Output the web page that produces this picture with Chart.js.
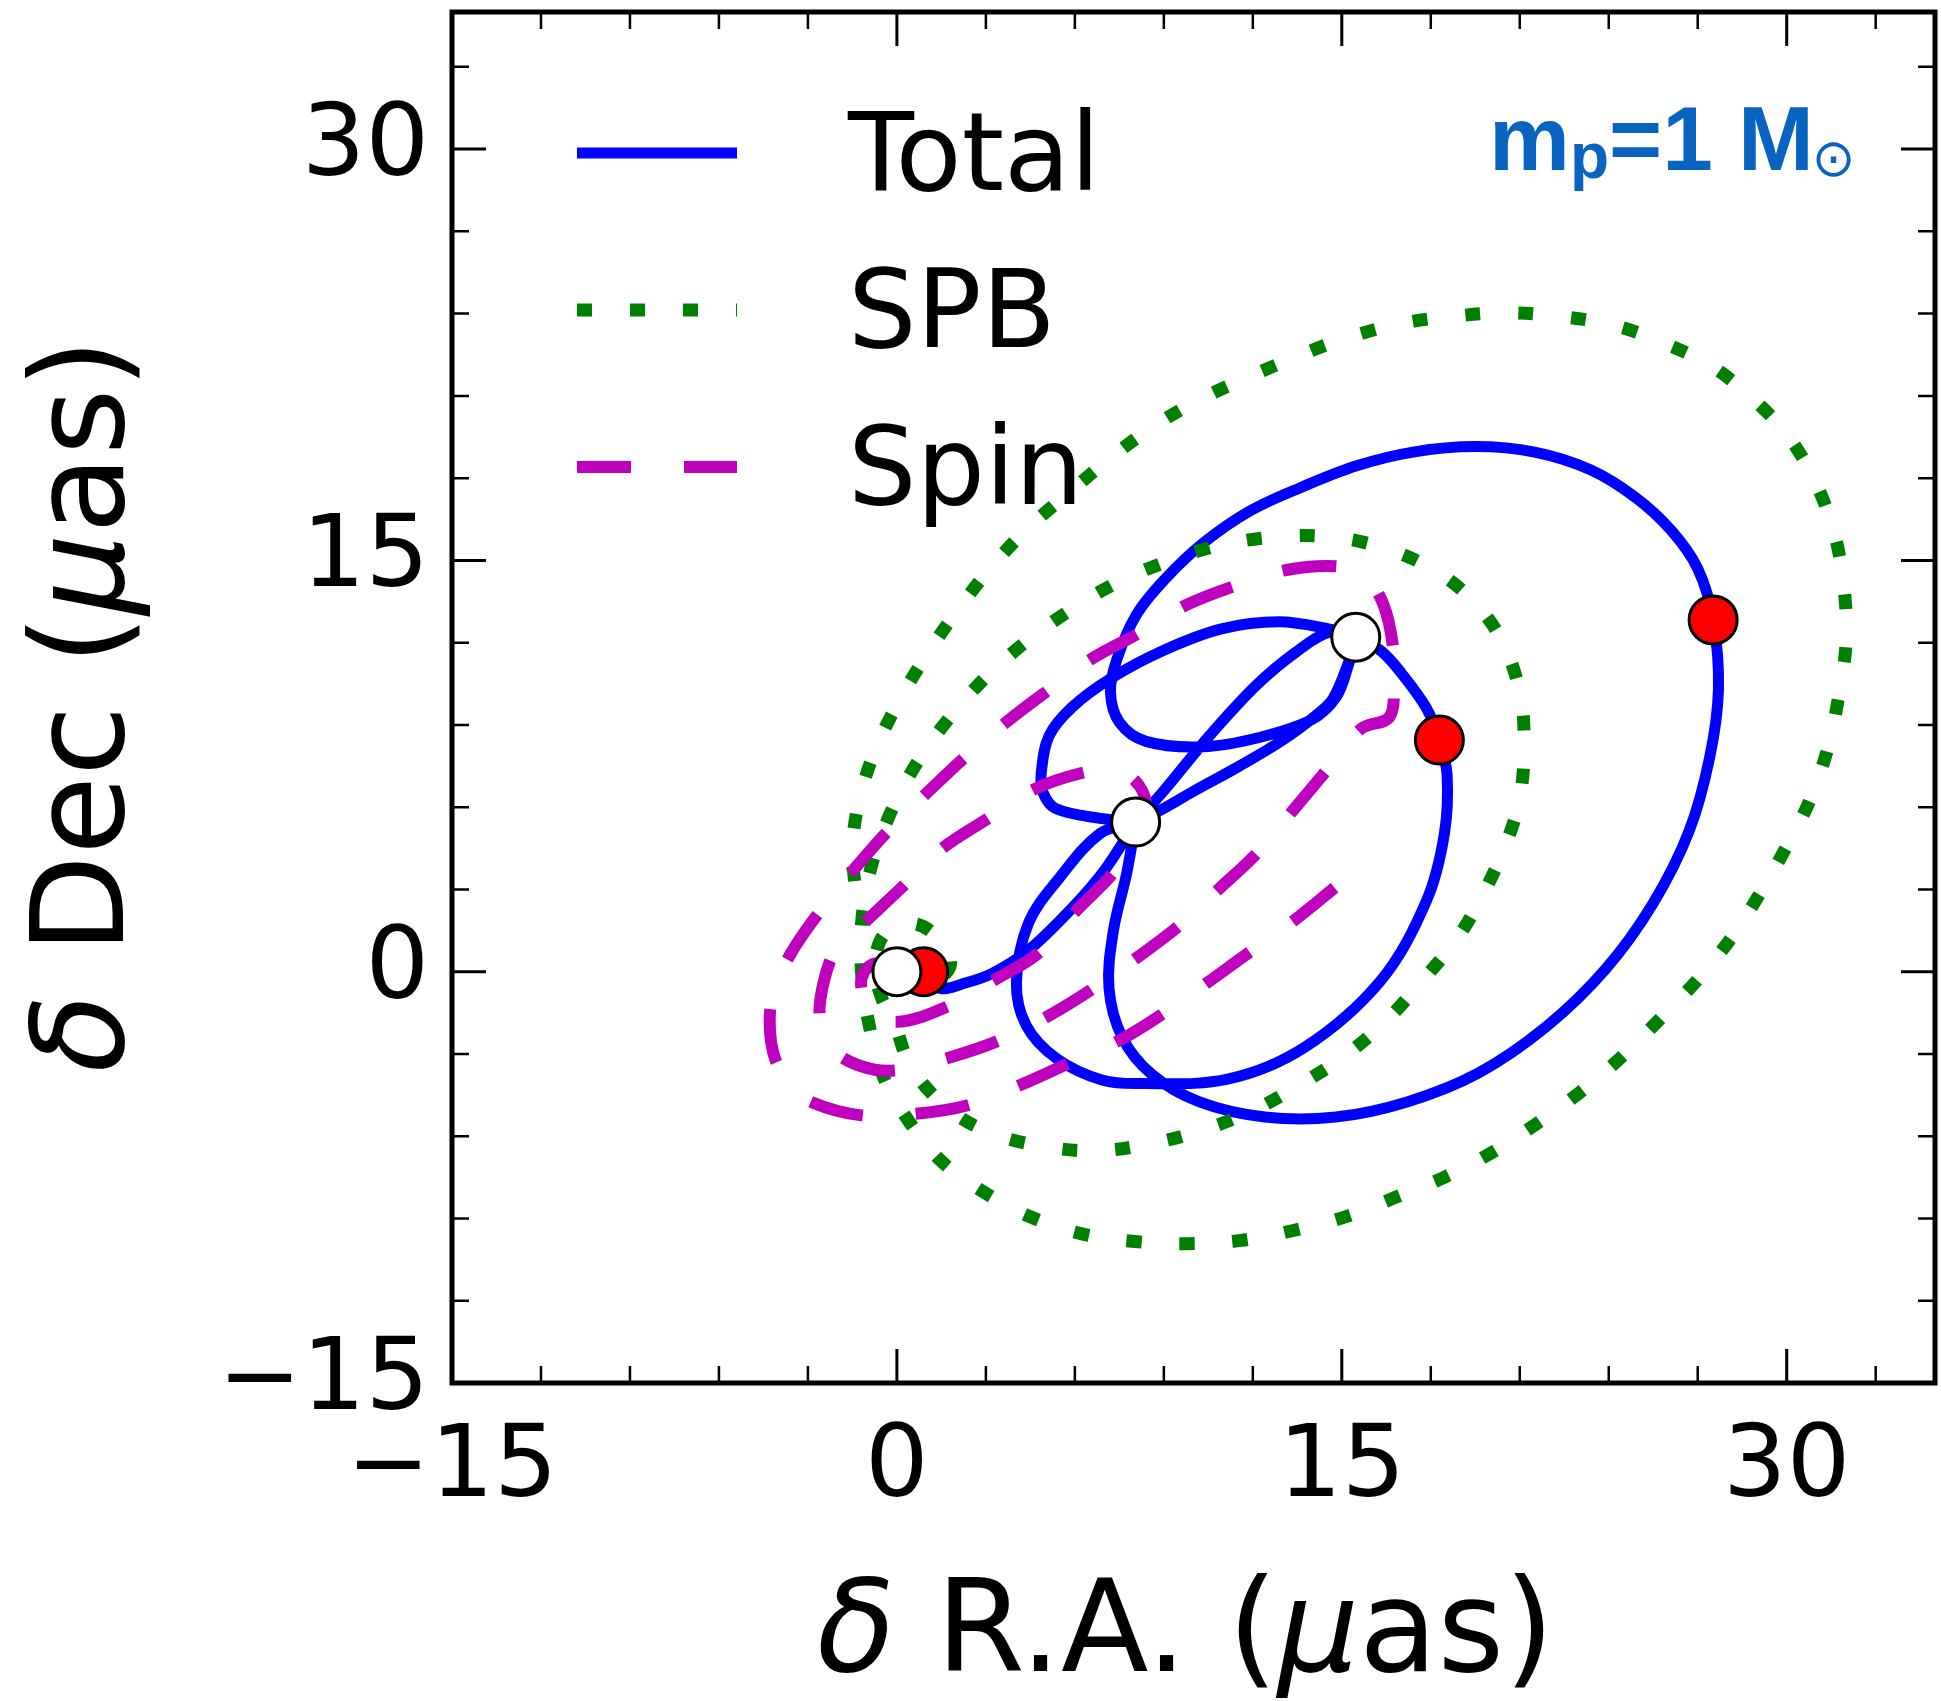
<!DOCTYPE html>
<html>
<head>
<meta charset="utf-8">
<script src="https://cdn.jsdelivr.net/npm/chart.js@4.4.1/dist/chart.umd.min.js"></script>
<style>
html, body { margin: 0; padding: 0; background: #fff; }
#wrap { width: 1941px; height: 1701px; }
</style>
</head>
<body>
<div id="wrap"><canvas id="orbit" width="1941" height="1701"></canvas></div>
<script>
// axis ticks (micro-arcsec)
const xTicks = [-15, 0, 15, 30];
const yTicks = [-15, 0, 15, 30];

// Total track, [dRA, dDec], split into the pieces between the marker points
const totalStart = [[0,0],[0.9,-0.3],[1.5,-0.62],[2.2,-0.45],[3.2,-0.07],[4.4,0.75],[5.8,2.2],[7.0,3.7],[8.05,5.46]];
const totalSmallLoop = [[8.05,5.46],[6.95,5.58],[5.37,5.94],[4.92,6.55],[4.87,7.29],[5.13,8.6],[5.9,9.64],[7.19,10.68],[9.0,11.72],[10.94,12.5],[12.87,12.76],[14.55,12.5],[15.47,12.2]];
const totalMidLoop = [[15.47,12.2],[16.31,11.71],[17.0,10.9],[17.86,9.6],[18.29,8.45],[18.55,7.18],[18.46,5.04],[17.86,2.6],[16.31,-0.33],[13.73,-2.77],[11.15,-3.92],[8.23,-4.08],[6.94,-3.96],[5.39,-3.17],[4.36,-1.96],[4.03,-0.38],[4.44,1.78],[5.47,3.41],[6.85,5.04],[8.05,5.46]];
const totalLensUpper = [[8.05,5.46],[9.0,6.6],[10.54,8.61],[12.11,10.44],[13.46,11.66],[14.59,12.38],[15.47,12.2]];
const totalLensLower = [[15.47,12.2],[15.2,11.2],[14.7,9.95],[14.2,9.41],[13.0,8.44],[11.5,7.47],[10.0,6.58],[8.97,5.94],[8.05,5.46]];
const totalBigLoop = [[8.05,5.46],[7.75,3.6],[7.3,1.5],[7.15,-0.6],[7.6,-2.4],[8.6,-3.75],[10.2,-4.75],[12.4,-5.3],[14.8,-5.3],[17.2,-4.75],[19.6,-3.7],[21.9,-2.0],[23.9,0.1],[25.5,2.5],[26.7,5.1],[27.4,7.8],[27.7,10.3],[27.52,12.83],[27.0,14.7],[26.1,16.1],[24.9,17.3],[23.4,18.3],[21.5,18.95],[19.5,19.15],[17.4,18.95],[15.5,18.45],[13.6,17.65],[11.9,16.8],[10.35,15.65],[9.05,14.33],[8.07,13.01],[7.42,11.4],[7.2,10.2],[7.5,9.1],[8.4,8.4],[10.3,8.2],[12.25,8.55],[14.0,9.2],[14.8,10.0],[15.2,11.1],[15.47,12.2]];

// SPB contribution
const spbTrack = [[0,0],[1.0,-0.45],[1.79,0.18],[1.5,1.1],[0.6,1.75],[-0.4,1.4],[-0.75,0.2],[-0.5,-1.0],[-0.13,-1.71],[0.47,-3.46],[1.72,-4.99],[3.24,-5.91],[4.99,-6.38],[6.78,-6.53],[8.56,-6.27],[10.3,-5.78],[12.01,-5.06],[13.56,-4.14],[15.12,-3.05],[16.51,-1.77],[17.73,-0.31],[18.88,1.2],[19.77,2.84],[20.51,4.6],[21.0,6.3],[21.15,8.47],[20.97,10.35],[20.31,12.25],[19.23,13.74],[17.78,14.85],[16.1,15.56],[14.29,15.89],[12.49,15.83],[10.68,15.5],[9.0,14.92],[7.26,14.1],[5.71,13.09],[4.29,11.98],[2.94,10.68],[1.71,9.18],[0.68,7.62],[-0.16,5.93],[-0.81,4.04],[-1.15,2.22],[-1.21,0.29],[-0.98,-1.71],[-0.47,-3.79],[0.30,-5.29],[1.48,-6.89],[2.9,-8.02],[4.48,-8.93],[6.2,-9.55],[8.02,-9.84],[9.81,-9.92],[11.6,-9.8],[13.4,-9.43],[15.12,-8.94],[16.83,-8.22],[18.47,-7.49],[20.1,-6.57],[21.66,-5.48],[23.04,-4.39],[24.43,-3.11],[25.74,-1.71],[26.97,-0.32],[28.11,1.2],[29.09,2.84],[29.99,4.55],[30.8,6.3],[31.4,8.21],[31.76,10.09],[32.0,11.98],[31.94,13.94],[31.63,15.89],[31.03,17.71],[30.13,19.41],[28.92,20.84],[27.47,22.08],[25.85,22.93],[24.16,23.58],[22.35,23.9],[20.55,24.03],[18.74,23.9],[16.99,23.64],[15.18,23.12],[13.69,22.53],[11.71,21.62],[10.16,20.84],[8.61,19.86],[7.19,18.73],[5.78,17.45],[4.42,16.18],[3.2,14.78],[2.07,13.22],[1.04,11.62],[0.1,9.93],[-0.68,8.21],[-1.26,6.32],[-1.5,4.5],[-1.4,3.0]];

// Spin contribution
const spinTrack = [[0,0],[-0.7,0.3],[-1.1,0.0],[-1.2,-0.6],[-0.9,-1.4],[-0.02,-1.83],[1.66,-1.29],[3.35,-0.26],[4.75,0.66],[6.04,2.22],[7.33,3.65],[8.1,5.0],[8.4,6.1],[8.0,7.0],[7.2,7.35],[6.16,7.23],[4.62,6.65],[3.0,5.54],[1.45,4.43],[0.16,3.07],[-1.06,1.83],[-2.0,0.9],[-2.45,-0.3],[-2.6,-1.7],[-2.2,-2.8],[-1.2,-3.45],[-0.02,-3.6],[1.83,-3.11],[3.46,-2.5],[5.15,-1.59],[6.61,-0.62],[8.13,0.54],[9.53,1.69],[10.87,3.03],[12.17,4.36],[13.39,5.93],[14.55,7.43],[15.65,8.86],[16.61,9.29],[16.75,10.6],[16.72,11.9],[16.4,13.4],[15.8,14.4],[14.87,14.78],[13.13,14.65],[11.39,14.07],[9.71,13.35],[8.1,12.31],[6.55,11.4],[5.06,10.23],[3.71,9.12],[2.29,7.82],[1.0,6.51],[-0.35,5.08],[-1.51,3.65],[-2.66,2.11],[-3.5,0.8],[-4.1,-0.5],[-4.29,-1.8],[-4.1,-3.2],[-3.5,-4.2],[-2.89,-4.75],[-1.2,-5.24],[0.65,-5.18],[2.39,-4.87],[4.14,-4.14],[5.77,-3.35],[7.51,-2.5],[8.97,-1.53],[10.49,-0.38],[11.67,0.54],[13.32,1.81],[14.79,3.09]];

// marked epochs on the total track
const redEpochs = [[0.9,0.0],[18.29,8.45],[27.52,12.83]];
const whiteEpochs = [[0,0],[8.05,5.46],[15.47,12.2]];

const legendRows = ['Total', 'SPB', 'Spin'];
const massLabel = { main: 'm', sub: 'p', rest: '=1 M', sun: '\u2299' };

const BLUE = '#0000ff', GREEN = '#008000', MAGENTA = '#bf00bf', LABEL_BLUE = '#0864c0';
const FONT = '"DejaVu Sans", sans-serif';

// plot box in canvas pixels
const BOX = { left: 452, top: 12, right: 1935, bottom: 1383 };

const pts = arr => arr.map(p => ({ x: p[0], y: p[1] }));
const joinPieces = pieces => {
  const out = [];
  pieces.forEach((p, i) => {
    if (i > 0) out.push({ x: null, y: null });
    out.push(...pts(p));
  });
  return out;
};

const minus = v => v < 0 ? '\u2212' + Math.abs(v) : String(v);

// pin the plot box so the tick labels don't push it around
const pinBox = {
  id: 'pinBox',
  afterLayout(chart) {
    const { x, y } = chart.scales;
    const ca = chart.chartArea;
    ca.top = BOX.top; ca.right = BOX.right;
    ca.width = ca.right - ca.left; ca.height = ca.bottom - ca.top;
    x.right = BOX.right; x.width = x.right - x.left;
    y.top = BOX.top; y.height = y.bottom - y.top;
    x.configure(); y.configure();
  }
};

// box, inward ticks on all sides, axis titles, legend and the mass label
const decorations = {
  id: 'decorations',
  afterDatasetsDraw(chart) {
    const { ctx, chartArea: a, scales: { x, y } } = chart;
    ctx.save();
    ctx.strokeStyle = '#000';
    ctx.lineCap = 'butt';
    for (let v = -12; v <= 33; v += 3) {
      const major = v % 15 === 0;
      const len = major ? 34 : 17;
      ctx.lineWidth = major ? 3 : 2.5;
      const px = x.getPixelForValue(v);
      const py = y.getPixelForValue(v);
      ctx.beginPath();
      ctx.moveTo(px, a.bottom); ctx.lineTo(px, a.bottom - len);
      ctx.moveTo(px, a.top); ctx.lineTo(px, a.top + len);
      ctx.moveTo(a.left, py); ctx.lineTo(a.left + len, py);
      ctx.moveTo(a.right, py); ctx.lineTo(a.right - len, py);
      ctx.stroke();
    }
    ctx.lineWidth = 5;
    ctx.strokeRect(a.left, a.top, a.right - a.left, a.bottom - a.top);

    // axis titles, with the math letters slanted
    const drawParts = (parts, size) => {
      let w = 0;
      parts.forEach(p => { ctx.font = (p[1] ? 'oblique ' : '') + size + 'px ' + FONT; w += ctx.measureText(p[0]).width; });
      let cx = -w / 2;
      parts.forEach(p => {
        ctx.font = (p[1] ? 'oblique ' : '') + size + 'px ' + FONT;
        ctx.fillText(p[0], cx, 0);
        cx += ctx.measureText(p[0]).width;
      });
    };
    ctx.fillStyle = '#000';
    ctx.textAlign = 'left';
    ctx.textBaseline = 'alphabetic';
    ctx.save();
    ctx.translate((a.left + a.right) / 2 - 8, 1671);
    drawParts([['\u03b4', true], [' R.A. (', false], ['\u03bc', true], ['as)', false]], 128);
    ctx.restore();
    ctx.save();
    ctx.translate(123, (a.top + a.bottom) / 2 + 8);
    ctx.rotate(-Math.PI / 2);
    drawParts([['\u03b4', true], [' Dec (', false], ['\u03bc', true], ['as)', false]], 128);
    ctx.restore();

    // legend
    const styles = [
      { color: BLUE, width: 11, dash: [] },
      { color: GREEN, width: 13, dash: [15, 38] },
      { color: MAGENTA, width: 12, dash: [54, 53] }
    ];
    const lineY = [153, 310, 467];
    const textY = [190, 347, 504];
    legendRows.forEach((name, i) => {
      const s = styles[i];
      ctx.strokeStyle = s.color;
      ctx.lineWidth = s.width;
      ctx.setLineDash(s.dash);
      ctx.beginPath();
      ctx.moveTo(577, lineY[i]);
      ctx.lineTo(737, lineY[i]);
      ctx.stroke();
      ctx.setLineDash([]);
      ctx.fillStyle = '#000';
      ctx.font = '108px ' + FONT;
      ctx.fillText(name, 848, textY[i]);
    });

    // mass label
    ctx.fillStyle = LABEL_BLUE;
    let lx = 1489;
    ctx.font = 'bold 91px "Liberation Sans", Arial, sans-serif';
    ctx.fillText(massLabel.main, lx, 170);
    lx += ctx.measureText(massLabel.main).width;
    ctx.font = 'bold 64px "Liberation Sans", Arial, sans-serif';
    ctx.fillText(massLabel.sub, lx, 178);
    lx += ctx.measureText(massLabel.sub).width;
    ctx.font = 'bold 91px "Liberation Sans", Arial, sans-serif';
    ctx.fillText(massLabel.rest, lx, 170);
    lx += ctx.measureText(massLabel.rest).width;
    ctx.font = '52px "DejaVu Sans"';
    ctx.fillText(massLabel.sun, lx - 2, 176);
    ctx.restore();
  }
};

const lineSet = (label, data, color, width, dash, order) => ({
  label, data, order,
  showLine: true,
  borderColor: color,
  borderWidth: width,
  borderDash: dash,
  borderCapStyle: 'butt',
  borderJoinStyle: 'round',
  pointRadius: 0,
  tension: 0.35,
  spanGaps: false
});

const markerSet = (label, data, fill, order) => ({
  label, data: pts(data), order,
  showLine: false,
  pointRadius: 24,
  pointBackgroundColor: fill,
  pointBorderColor: '#000',
  pointBorderWidth: 3
});

new Chart(document.getElementById('orbit'), {
  type: 'scatter',
  data: {
    datasets: [
      markerSet('epoch (white)', whiteEpochs, '#ffffff', 0),
      markerSet('epoch (red)', redEpochs, '#ff0000', 1),
      lineSet('Spin', pts(spinTrack), MAGENTA, 12, [54, 53], 2),
      lineSet('SPB', pts(spbTrack), GREEN, 13, [15, 38], 3),
      lineSet('Total', joinPieces([totalStart, totalSmallLoop, totalMidLoop, totalLensUpper, totalLensLower, totalBigLoop]), BLUE, 11, [], 4)
    ]
  },
  options: {
    responsive: false,
    animation: false,
    devicePixelRatio: 1,
    layout: { padding: { left: 0, top: 12, right: 6, bottom: 0 } },
    plugins: { legend: { display: false }, tooltip: { enabled: false } },
    scales: {
      x: {
        type: 'linear', min: -15, max: 35,
        grid: { display: false, drawTicks: false, tickLength: 0 },
        border: { display: false },
        afterBuildTicks: s => { s.ticks = xTicks.map(v => ({ value: v })); },
        afterFit: s => { s.height = 318; s.paddingLeft = 0; s.paddingRight = 0; },
        ticks: { font: { family: FONT, size: 100 }, color: '#000', padding: 27, maxRotation: 0, autoSkip: false, callback: v => minus(v) }
      },
      y: {
        type: 'linear', min: -15, max: 35,
        grid: { display: false, drawTicks: false, tickLength: 0 },
        border: { display: false },
        afterBuildTicks: s => { s.ticks = yTicks.map(v => ({ value: v })); },
        afterFit: s => { s.width = 452; s.paddingTop = 0; s.paddingBottom = 0; },
        ticks: { font: { family: FONT, size: 100 }, color: '#000', padding: 23, autoSkip: false, callback: v => minus(v) }
      }
    }
  },
  plugins: [pinBox, decorations]
});
</script>
</body>
</html>
